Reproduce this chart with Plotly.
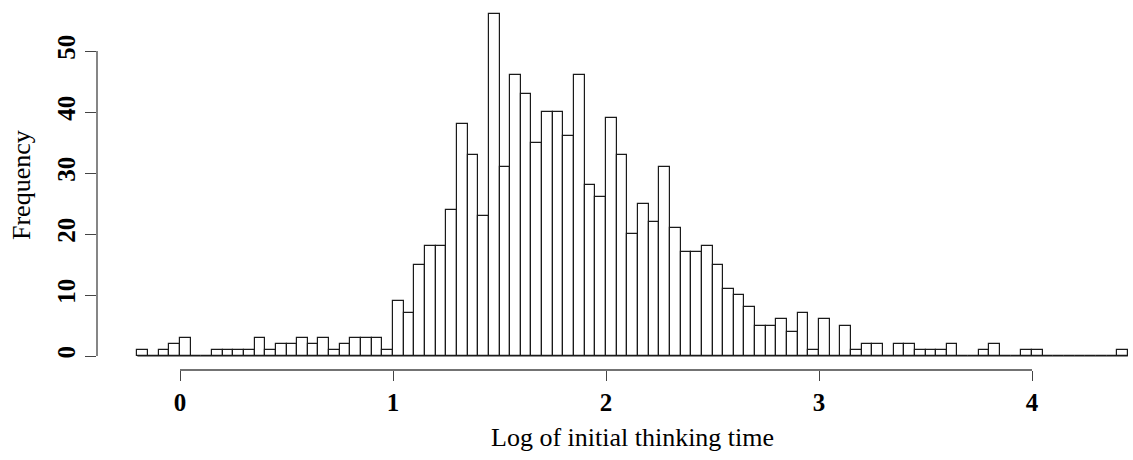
import numpy as np
import plotly.graph_objects as go

# Histogram of log initial thinking time: bins of width 0.05 starting at -0.20
bin_start = -0.20
bin_width = 0.05
counts = [
    1, 0, 1, 2,                              # -0.20 .. -0.05
    3, 0, 0, 1, 1, 1, 1, 3, 1, 2,            # 0.00 .. 0.45
    2, 3, 2, 3, 1, 2, 3, 3, 3, 1,            # 0.50 .. 0.95
    9, 7, 15, 18, 18, 24, 38, 33, 23, 56,    # 1.00 .. 1.45
    31, 46, 43, 35, 40, 40, 36, 46, 28, 26,  # 1.50 .. 1.95
    39, 33, 20, 25, 22, 31, 21, 17, 17, 18,  # 2.00 .. 2.45
    15, 11, 10, 8, 5, 5, 6, 4, 7, 1,         # 2.50 .. 2.95
    6, 0, 5, 1, 2, 2, 0, 2, 2, 1,            # 3.00 .. 3.45
    1, 1, 2, 0, 0, 1, 2, 0, 0, 1,            # 3.50 .. 3.95
    1, 0, 0, 0, 0, 0, 0, 0, 1,               # 4.00 .. 4.40
]
x_ticks = [0, 1, 2, 3, 4]
y_ticks = [0, 10, 20, 30, 40, 50]
x_title = "Log of initial thinking time"
y_title = "Frequency"

centers = bin_start + bin_width * (np.arange(len(counts)) + 0.5)
bin_end = bin_start + bin_width * len(counts)

SERIF = "Liberation Serif"
AXIS_COLOR = "#444444"

fig = go.Figure(
    go.Bar(
        x=centers,
        y=counts,
        width=bin_width,
        marker=dict(color="white", line=dict(color="#1a1a1a", width=1.2)),
        hoverinfo="x+y",
    )
)

# Pixel geometry: plot area spans x 97..1133, y 5..370
px_per_x = 213.0
x0_px = 180.0  # pixel of x = 0
px_per_y = 6.1
y0_px = 356.0  # pixel of count = 0
left, right, top, bottom = 97, 1133, 5, 370

x_range = [(left - x0_px) / px_per_x, (right - x0_px) / px_per_x]
y_range = [-(bottom - y0_px) / px_per_y, (y0_px - top) / px_per_y]

fig.update_layout(
    width=1133,
    height=460,
    margin=dict(l=left, r=1133 - right, t=top, b=460 - bottom),
    paper_bgcolor="white",
    plot_bgcolor="white",
    showlegend=False,
    bargap=0,
    font=dict(family=SERIF, color="black"),
    xaxis=dict(
        range=x_range,
        tickvals=x_ticks,
        ticktext=[str(v) for v in x_ticks],
        ticks="outside",
        ticklen=10,
        tickwidth=1.3,
        tickcolor=AXIS_COLOR,
        showline=False,
        showgrid=False,
        zeroline=False,
        tickfont=dict(family=SERIF, size=25, weight="bold", color="black"),
    ),
    yaxis=dict(
        range=y_range,
        tickvals=y_ticks,
        ticktext=[str(v) for v in y_ticks],
        tickangle=-90,
        ticks="outside",
        ticklen=11,
        tickwidth=1.3,
        tickcolor=AXIS_COLOR,
        showline=False,
        showgrid=False,
        zeroline=False,
        tickfont=dict(family=SERIF, size=25, weight="bold", color="black"),
    ),
    shapes=[
        # x axis line spanning the tick range
        dict(type="line", xref="x", yref="paper", x0=x_ticks[0], x1=x_ticks[-1], y0=0, y1=0,
             line=dict(color=AXIS_COLOR, width=1.3)),
        # y axis line spanning the tick range
        dict(type="line", xref="paper", yref="y", x0=0, x1=0, y0=y_ticks[0], y1=y_ticks[-1],
             line=dict(color=AXIS_COLOR, width=1.3)),
        # histogram baseline across all bins
        dict(type="line", xref="x", yref="y", x0=bin_start, x1=bin_end, y0=0, y1=0,
             line=dict(color="#1a1a1a", width=1.2)),
    ],
    annotations=[
        dict(text=x_title, xref="paper", yref="paper",
             x=(632 - left) / (right - left), y=-(437 - bottom) / (bottom - top),
             xanchor="center", yanchor="middle", showarrow=False,
             font=dict(family=SERIF, size=26, color="black")),
        dict(text=y_title, xref="paper", yref="paper", textangle=-90,
             x=(21 - left) / (right - left), y=(bottom - 185) / (bottom - top),
             xanchor="center", yanchor="middle", showarrow=False,
             font=dict(family=SERIF, size=26, color="black")),
    ],
)

fig.write_html("out.html")
